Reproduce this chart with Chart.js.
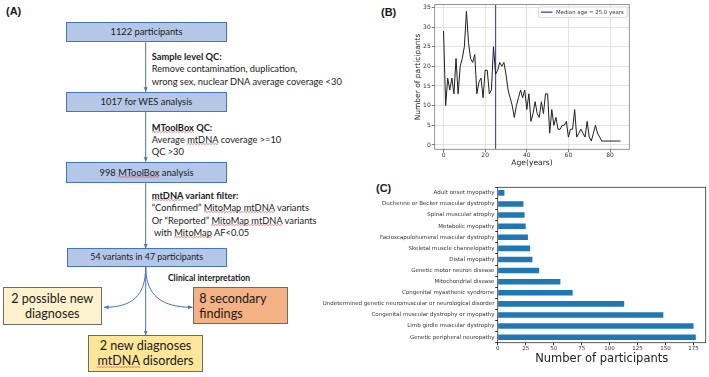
<!DOCTYPE html>
<html lang="en">

<head>
  <meta charset="UTF-8">
  <title>mtDNA workflow, age distribution and diagnoses</title>
  <script src="https://cdn.jsdelivr.net/npm/chart.js"></script>
  <style>
    body {
      margin: 0;
      background: #fff;
    }

    #page {
      position: relative;
      width: 709px;
      height: 377px;
      overflow: hidden;
      font-family: Lato, "Liberation Sans", sans-serif;
      color: #1a1a1a;
    }

    .panel {
      position: absolute;
      font-family: "Liberation Sans", Arial, sans-serif;
      font-weight: bold;
      font-size: 11px;
    }

    .box {
      position: absolute;
      box-sizing: border-box;
      display: flex;
      align-items: center;
      justify-content: center;
      text-align: center;
      line-height: 1.2;
    }

    .blue {
      background: #b4c7e7;
      border: 1px solid #4472c4;
      font-size: 9.3px;
    }

    .big {
      font-size: 12.6px;
      border: 1px solid #6b6b6b;
    }

    .step {
      position: absolute;
      font-size: 9.3px;
      line-height: 12.3px;
      white-space: nowrap;
    }

    /* spell-check squiggle under some words */
    .sq {
      background: url("data:image/svg+xml,%3Csvg xmlns='http://www.w3.org/2000/svg' width='3' height='2'%3E%3Cpath d='M0 1.5 L1.5 0.4 L3 1.5' stroke='%23dd3333' stroke-width='0.6' fill='none'/%3E%3C/svg%3E") repeat-x left bottom / 3px 2px;
    }

    canvas {
      position: absolute;
    }
  </style>
</head>

<body>
  <div id="page">
    <!-- (A) flowchart -->
    <div class="panel" style="left:6px;top:5px;">(A)</div>

    <svg width="400" height="377" style="position:absolute;left:0;top:0;">
      <defs>
        <marker id="tip" markerWidth="5" markerHeight="5" refX="4.5" refY="2.5" orient="auto" markerUnits="userSpaceOnUse">
          <path d="M0,0.5 L4.5,2.5 L0,4.5 Z" fill="#4472c4" />
        </marker>
      </defs>
      <g stroke="#4472c4" stroke-width="1" fill="none">
        <line x1="145.7" y1="42.3" x2="145.7" y2="91.7" marker-end="url(#tip)" />
        <line x1="145.7" y1="111.7" x2="145.7" y2="161.7" marker-end="url(#tip)" />
        <line x1="145.7" y1="183.3" x2="145.7" y2="248.3" marker-end="url(#tip)" />
        <line x1="145.7" y1="266.7" x2="145.7" y2="335" marker-end="url(#tip)" />
        <path d="M145.7,266.7 C145.7,296 132,307.3 104,307.3" marker-end="url(#tip)" />
        <path d="M145.7,266.7 C145.7,296 162,307.3 192.5,307.3" marker-end="url(#tip)" />
      </g>
    </svg>

    <div class="box blue" style="left:66px;top:21.7px;width:161px;height:20.6px;"><span>1122 participants</span></div>
    <div class="box blue" style="left:66px;top:91.7px;width:161px;height:20px;"><span>1017 for WES analysis</span></div>
    <div class="box blue" style="left:66px;top:161.7px;width:161px;height:21.6px;"><span>998 <span class="sq">MToolBox</span> analysis</span></div>
    <div class="box blue" style="left:66.7px;top:248.3px;width:160px;height:18.4px;font-size:8.9px;"><span>54 variants in 47 participants</span></div>

    <div class="step" style="left:151.7px;top:51px;"><b>Sample level QC:</b><br>Remove contamination, duplication,<br>wrong sex, nuclear DNA average coverage &lt;30</div>
    <div class="step" style="left:151.7px;top:121.5px;"><b><span class="sq">MToolBox</span> QC:</b><br>Average <span class="sq">mtDNA</span> coverage &gt;=10<br>QC &gt;30</div>
    <div class="step" style="left:151.7px;top:190px;"><b><span class="sq">mtDNA</span> variant filter:</b><br>“Confirmed” <span class="sq">MitoMap mtDNA</span> variants<br>Or “Reported” <span class="sq">MitoMap mtDNA</span> variants<br>&nbsp;with <span class="sq">MitoMap</span> AF&lt;0.05</div>
    <div class="step" style="left:168px;top:271.5px;font-size:8.5px;"><b>Clinical interpretation</b></div>

    <div class="box big" style="left:2.7px;top:287.3px;width:99px;height:37.7px;background:#fff2cc;"><span>2 possible new<br>diagnoses</span></div>
    <div class="box big" style="left:193.3px;top:287.3px;width:95px;height:36.7px;background:#f4b183;justify-content:flex-start;text-align:left;padding-left:5px;"><span>8 secondary<br>findings</span></div>
    <div class="box big" style="left:88.3px;top:335px;width:114.4px;height:36.7px;background:#ffe699;"><span>2 new diagnoses<br><span class="sq">mtDNA</span> disorders</span></div>

    <!-- (B) and (C) charts -->
    <div class="panel" style="left:381px;top:6px;">(B)</div>
    <div class="panel" style="left:376px;top:182px;">(C)</div>
    <canvas id="ageChart" width="240" height="172" style="left:395px;top:0;"></canvas>
    <canvas id="dxChart" width="409" height="197" style="left:300px;top:180px;"></canvas>
  </div>

  <script>
    // (B) participants per year of age
    const ages = [0, 1, 2, 3, 4, 5, 6, 7, 8, 9, 10, 11, 12, 13, 14, 15, 16, 17, 18, 19,
      20, 21, 22, 23, 24, 25, 26, 27, 28, 29, 30, 31, 32, 33, 34, 35, 36, 37, 38, 39,
      40, 41, 42, 43, 44, 45, 46, 47, 48, 49, 50, 51, 52, 53, 54, 55, 56, 57, 58, 59,
      60, 61, 62, 63, 64, 65, 66, 67, 68, 69, 70, 71, 72, 73, 74, 75, 76, 77, 78, 79,
      80, 81, 82, 83, 84, 85];
    const ageCounts = [29, 10, 17, 14, 17, 13, 22, 13, 20, 22, 25, 34, 26, 22, 21, 23, 13, 16, 17, 12,
      19, 19, 13, 14, 25, 18, 19, 21, 20, 21, 18, 14, 12, 10, 7, 10, 12, 14, 12, 14,
      9, 13, 6, 8, 11, 8, 7, 11, 8, 13, 13, 3, 9, 5, 7, 4, 4, 5, 5, 6,
      2, 4, 4, 9, 2, 3, 4, 3, 2, 6, 2, 1, 3, 5, 3, 2, 1, 1, 1, 1,
      1, 1, 1, 1, 1, 1];
    const medianAge = 25.0;
    const ageTicks = [0, 20, 40, 60, 80];
    const countTicks = [0, 5, 10, 15, 20, 25, 30, 35];

    // (C) participants per clinical category (top to bottom)
    const diagnoses = [
      'Adult onset myopathy',
      'Duchenne or Becker muscular dystrophy',
      'Spinal muscular atrophy',
      'Metabolic myopathy',
      'Facioscapulohumeral muscular dystrophy',
      'Skeletal muscle channelopathy',
      'Distal myopathy',
      'Genetic motor neuron disease',
      'Mitochondrial disease',
      'Congenital myasthenic syndrome',
      'Undetermined genetic neuromuscular or neurological disorder',
      'Congenital muscular dystrophy or myopathy',
      'Limb girdle muscular dystrophy',
      'Genetic peripheral neuropathy'
    ];
    const diagnosisCounts = [6, 23, 24, 25, 27, 29, 31, 37, 56, 67, 113, 148, 175, 177];
    const participantTicks = [0, 25, 50, 75, 100, 125, 150, 175];

    const mplFont = 'DejaVu Sans';

    // box around the plot area, like matplotlib spines
    const framePlugin = {
      id: 'frame',
      afterDraw(chart, args, opts) {
        const a = chart.chartArea;
        const ctx = chart.ctx;
        ctx.save();
        ctx.strokeStyle = opts.color || '#333';
        ctx.lineWidth = opts.width || 0.8;
        ctx.strokeRect(a.left, a.top, a.right - a.left, a.bottom - a.top);
        ctx.restore();
      }
    };

    // legend drawn inside the upper right corner
    const insideLegend = {
      id: 'insideLegend',
      afterDraw(chart, args, opts) {
        if (!opts.enabled) return;
        const ds = chart.data.datasets[opts.index];
        const ctx = chart.ctx;
        const a = chart.chartArea;
        ctx.save();
        ctx.font = '5.4px "' + mplFont + '"';
        const tw = ctx.measureText(ds.label).width;
        const w = tw + 21, h = 10.5;
        const x = a.right - 2 - w, y = a.top + 2.3;
        ctx.fillStyle = 'rgba(255,255,255,0.85)';
        ctx.strokeStyle = '#d0d0d0';
        ctx.lineWidth = 0.8;
        ctx.beginPath();
        ctx.roundRect(x, y, w, h, 1.5);
        ctx.fill();
        ctx.stroke();
        ctx.strokeStyle = ds.borderColor;
        ctx.lineWidth = 1.4;
        ctx.beginPath();
        ctx.moveTo(x + 2.5, y + h / 2);
        ctx.lineTo(x + 14, y + h / 2);
        ctx.stroke();
        ctx.fillStyle = '#333';
        ctx.textBaseline = 'middle';
        ctx.fillText(ds.label, x + 17.5, y + h / 2 + 0.3);
        ctx.restore();
      }
    };

    function fixedTicks(values) {
      return scale => { scale.ticks = values.map(v => ({ value: v })); };
    }

    const yMinB = -1.1, yMaxB = 35.7;

    new Chart(document.getElementById('ageChart'), {
      type: 'line',
      data: {
        datasets: [{
          label: 'participants',
          data: ages.map((a, i) => ({ x: a, y: ageCounts[i] })),
          borderColor: '#1e1e1e',
          borderWidth: 1,
          pointRadius: 0,
          tension: 0
        }, {
          label: 'Median age = ' + medianAge.toFixed(1) + ' years',
          data: [{ x: medianAge, y: yMinB }, { x: medianAge, y: yMaxB }],
          borderColor: '#5548c8',
          borderWidth: 1.2,
          pointRadius: 0
        }]
      },
      options: {
        responsive: false,
        animation: false,
        layout: { padding: { top: 2.7, right: 5.7, left: 0, bottom: 0 } },
        plugins: {
          legend: { display: false },
          tooltip: { enabled: false },
          frame: { color: '#7a7a7a', width: 0.8 },
          insideLegend: { enabled: true, index: 1 }
        },
        scales: {
          x: {
            type: 'linear',
            min: -4.25,
            max: 89.25,
            afterBuildTicks: fixedTicks(ageTicks),
            afterFit: s => { s.height = 22.7; },
            grid: { color: '#dcdcdc', lineWidth: 0.8, tickLength: 3, tickColor: '#555' },
            border: { display: false },
            ticks: { font: { family: mplFont, size: 6 }, color: '#333', padding: 0, maxRotation: 0 },
            title: { display: true, text: 'Age(years)', font: { family: mplFont, size: 7.6 }, color: '#222', padding: 4.7 }
          },
          y: {
            min: yMinB,
            max: yMaxB,
            afterBuildTicks: fixedTicks(countTicks),
            afterFit: s => { s.width = 39.7; },
            grid: { color: '#dcdcdc', lineWidth: 0.8, tickLength: 3, tickColor: '#555' },
            border: { display: false },
            ticks: { font: { family: mplFont, size: 6 }, color: '#333', padding: 1 },
            title: { display: true, text: 'Number of participants', font: { family: mplFont, size: 7.5 }, color: '#222', padding: 18.5 }
          }
        }
      },
      plugins: [framePlugin, insideLegend]
    });

    new Chart(document.getElementById('dxChart'), {
      type: 'bar',
      data: {
        labels: diagnoses,
        datasets: [{
          data: diagnosisCounts,
          backgroundColor: '#1f77b4',
          barPercentage: 0.5,
          categoryPercentage: 1
        }]
      },
      options: {
        indexAxis: 'y',
        responsive: false,
        animation: false,
        layout: { padding: { top: 7.3, right: 3.3, left: 0, bottom: 0 } },
        plugins: {
          legend: { display: false },
          tooltip: { enabled: false },
          frame: { color: '#333', width: 0.8 },
          insideLegend: { enabled: false }
        },
        scales: {
          x: {
            min: 0,
            max: 185.85,
            afterBuildTicks: fixedTicks(participantTicks),
            afterFit: s => { s.height = 34.3; },
            grid: { drawOnChartArea: false, tickLength: 2.5, tickColor: '#333' },
            border: { display: false },
            ticks: { font: { family: mplFont, size: 5.5 }, color: '#333', padding: 0, maxRotation: 0 },
            title: { display: true, text: 'Number of participants', font: { family: mplFont, size: 11.5 }, color: '#222', padding: 11.1 }
          },
          y: {
            afterFit: s => { s.width = 197.7; },
            grid: { drawOnChartArea: false, tickLength: 2.5, tickColor: '#333' },
            border: { display: false },
            ticks: { font: { family: mplFont, size: 5.5 }, color: '#333', padding: 0.8, autoSkip: false }
          }
        }
      },
      plugins: [framePlugin, insideLegend]
    });
  </script>
</body>

</html>
